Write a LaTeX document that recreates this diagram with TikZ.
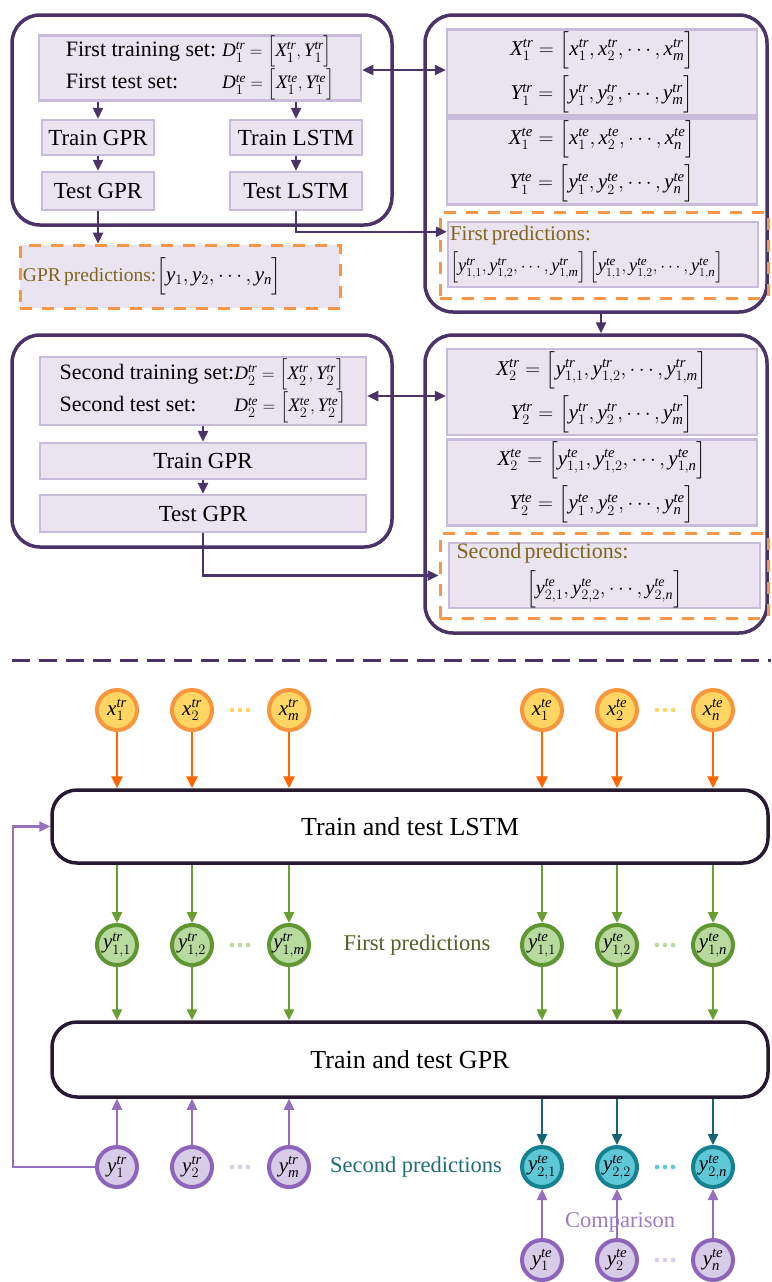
\documentclass[tikz,border=0pt]{standalone}
\usepackage{exscale}
\usepackage{fontspec}
\setmainfont{Liberation Serif}
\begingroup\edef\x{\endgroup
  \noexpand\DeclareSymbolFont{tletters}{TU}{\rmdefault}{m}{it}%
  \noexpand\DeclareSymbolFont{tdigits}{TU}{\rmdefault}{m}{n}}\x
\DeclareMathSymbol{x}{\mathalpha}{tletters}{`x}
\DeclareMathSymbol{y}{\mathalpha}{tletters}{`y}
\DeclareMathSymbol{m}{\mathalpha}{tletters}{`m}
\DeclareMathSymbol{n}{\mathalpha}{tletters}{`n}
\DeclareMathSymbol{t}{\mathalpha}{tletters}{`t}
\DeclareMathSymbol{r}{\mathalpha}{tletters}{`r}
\DeclareMathSymbol{e}{\mathalpha}{tletters}{`e}
\DeclareMathSymbol{X}{\mathalpha}{tletters}{`X}
\DeclareMathSymbol{Y}{\mathalpha}{tletters}{`Y}
\DeclareMathSymbol{D}{\mathalpha}{tletters}{`D}
\DeclareMathSymbol{1}{\mathalpha}{tdigits}{`1}
\DeclareMathSymbol{2}{\mathalpha}{tdigits}{`2}
\usetikzlibrary{arrows.meta,calc,shadows}
\definecolor{dpurple}{RGB}{74,51,102}
\definecolor{boxfill}{RGB}{234,228,240}
\definecolor{boxline}{RGB}{200,188,218}
\definecolor{dorange}{RGB}{247,150,70}
\definecolor{olivebrown}{RGB}{128,100,30}
\definecolor{oarrow}{RGB}{255,102,0}
\definecolor{oring}{RGB}{247,150,60}
\definecolor{ofill}{RGB}{255,214,100}
\definecolor{gring}{RGB}{95,150,50}
\definecolor{gfill}{RGB}{185,218,158}
\definecolor{garrow}{RGB}{106,158,50}
\definecolor{gtext}{RGB}{80,98,40}
\definecolor{vring}{RGB}{140,100,185}
\definecolor{vfill}{RGB}{216,203,232}
\definecolor{varrow}{RGB}{150,110,190}
\definecolor{vtext}{RGB}{155,125,190}
\definecolor{tring}{RGB}{20,130,145}
\definecolor{tfill}{RGB}{95,200,215}
\definecolor{tarrow}{RGB}{20,100,115}
\definecolor{ttext}{RGB}{30,110,120}
\definecolor{lborder}{RGB}{40,25,50}
\begin{document}
\begin{tikzpicture}[x=1pt,y=-1pt,
  bigbox/.style={draw=dpurple,line width=3.5pt,rounded corners=28pt,fill=white,inner sep=0pt},
  ibox/.style={draw=boxline,fill=boxfill,line width=2.5pt,inner sep=2pt},
  odash/.style={draw=dorange,line width=3pt,dash pattern=on 12pt off 10pt,inner sep=0pt},
  lbl/.style={font=\fontsize{23}{27}\selectfont},
  tip/.style={-{Triangle[length=11pt,width=10pt]}},
  parr/.style={draw=dpurple,line width=2.4pt,tip},
  darr/.style={draw=dpurple,line width=2.4pt,{Triangle[length=11pt,width=10pt]}-{Triangle[length=11pt,width=10pt]}},
  oarr/.style={draw=oarrow,line width=2.8pt,-{Triangle[length=12pt,width=11pt]}},
  garr/.style={draw=garrow,line width=2.4pt,tip},
  varr/.style={draw=varrow,line width=2.4pt,tip},
  tarr/.style={draw=tarrow,line width=2.4pt,tip},
  circ/.style={circle,line width=4pt,minimum size=40pt,inner sep=0pt,font=\fontsize{21}{21}\selectfont,
    drop shadow={shadow xshift=1.5pt,shadow yshift=-2pt,opacity=0.25,fill=gray}},
  ocirc/.style={circ,draw=oring,fill=ofill},
  gcirc/.style={circ,draw=gring,fill=gfill},
  vcirc/.style={circ,draw=vring,fill=vfill},
  tcirc/.style={circ,draw=tring,fill=tfill},
  stage/.style={draw=lborder,line width=3.5pt,rounded corners=25pt,fill=white,minimum width=716pt,font=\fontsize{26}{30}\selectfont}
]
\useasboundingbox[fill=white] (0,0) rectangle (771,1282);

% ---------- top part ----------
\node[bigbox,minimum width=380pt,minimum height=210pt] (bigtl) at (202,120) {};
\node[bigbox,minimum width=342pt,minimum height=297pt] (bigtr) at (596,163.5) {};
\node[bigbox,minimum width=380pt,minimum height=212pt] (bigbl) at (202,441) {};
\node[bigbox,minimum width=342pt,minimum height=298pt] (bigbr) at (596,484) {};

\node[ibox,minimum width=322pt,minimum height=65pt,inner ysep=0pt] (set1) at (200,68)
 {\fontsize{22}{25}\selectfont\begin{tabular}{@{}l@{\hspace{6pt}}l@{}}First training set: & {\fontsize{19}{20}\selectfont$D_1^{tr}=\Bigl[X_1^{tr},Y_1^{tr}\Bigr]$}\\[5pt]
 First test set: & {\fontsize{19}{20}\selectfont$D_1^{te}=\Bigl[X_1^{te},Y_1^{te}\Bigr]$}\end{tabular}};
\node[ibox,lbl,minimum width=112pt,minimum height=35pt] (trgpr1) at (98,137.5) {Train GPR};
\node[ibox,lbl,minimum width=132pt,minimum height=35pt] (trlstm1) at (296,137.5) {Train LSTM};
\node[ibox,lbl,minimum width=112pt,minimum height=38pt] (tegpr1) at (98,191) {Test GPR};
\node[ibox,lbl,minimum width=132pt,minimum height=38pt] (telstm1) at (296,191) {Test LSTM};
\node[ibox,odash,fill=boxfill,minimum width=320pt,minimum height=63pt,text width=314pt,align=left,inner xsep=3pt] (gprpred) at (180,276.5)
 {\fontsize{19.5}{24}\selectfont\textcolor{olivebrown}{GPR predictions:}{\fontsize{21}{22}\selectfont$\Bigl[y_1,y_2,\cdots,y_n\Bigr]$}};

\draw[parr] (set1.south -| trgpr1) -- (trgpr1.north);
\draw[parr] (set1.south -| trlstm1) -- (trlstm1.north);
\draw[parr] (trgpr1) -- (tegpr1.north);
\draw[parr] (trlstm1) -- (telstm1.north);
\draw[parr] (tegpr1.south) -- (tegpr1.south |- gprpred.north);

\node[ibox,minimum width=310pt,minimum height=85pt,font=\fontsize{21}{22}\selectfont,align=center] (xy1tr) at (602,72.5)
 {$X_1^{tr}=\Bigl[x_1^{tr},x_2^{tr},\cdots,x_m^{tr}\Bigr]$\\[6pt]$Y_1^{tr}=\Bigl[y_1^{tr},y_2^{tr},\cdots,y_m^{tr}\Bigr]$};
\node[ibox,minimum width=310pt,minimum height=83pt,font=\fontsize{21}{22}\selectfont,align=center] (xy1te) at (602,161.5)
 {$X_1^{te}=\Bigl[x_1^{te},x_2^{te},\cdots,x_n^{te}\Bigr]$\\[6pt]$Y_1^{te}=\Bigl[y_1^{te},y_2^{te},\cdots,y_n^{te}\Bigr]$};
\node[odash,minimum width=328pt,minimum height=86pt] (fpdash) at (604,255) {};
\node[ibox,minimum width=310pt,minimum height=65pt,text width=306pt,align=left,inner ysep=0pt] (fpbox) at (603,254.5)
 {\fontsize{21}{21}\selectfont\textcolor{olivebrown}{First predictions:}\\[6pt]
 {\fontsize{18.5}{19}\selectfont$\Bigl[y_{1,1}^{tr},y_{1,2}^{tr},\cdots,y_{1,m}^{tr}\Bigr]\,\Bigl[y_{1,1}^{te},y_{1,2}^{te},\cdots,y_{1,n}^{te}\Bigr]$}};

\draw[darr] (set1.east |- 0,70) -- (xy1tr.west |- 0,70);
\draw[parr] (telstm1.south) |- ([yshift=-11pt]fpbox.north west);
\draw[parr] (bigtr.south -| 601,0) -- (bigbr.north -| 601,0);

% second block
\node[ibox,minimum width=326pt,minimum height=68pt,inner ysep=0pt] (set2) at (203,391)
 {\fontsize{22}{25}\selectfont\begin{tabular}{@{}l@{}l@{}}Second training set: & {\fontsize{19}{20}\selectfont$D_2^{tr}=\Bigl[X_2^{tr},Y_2^{tr}\Bigr]$}\\[5pt]
 Second test set: & {\fontsize{19}{20}\selectfont$D_2^{te}=\Bigl[X_2^{te},Y_2^{te}\Bigr]$}\end{tabular}};
\node[ibox,lbl,minimum width=326pt,minimum height=36pt] (trgpr2) at (203,461) {Train GPR};
\node[ibox,lbl,minimum width=326pt,minimum height=37pt] (tegpr2) at (203,513.5) {Test GPR};
\draw[parr] (set2.south) -- (trgpr2.north);
\draw[parr] (trgpr2.south) -- (tegpr2.north);

\node[ibox,minimum width=310pt,minimum height=86pt,font=\fontsize{21}{22}\selectfont,align=center] (xy2tr) at (602,392)
 {$X_2^{tr}=\Bigl[y_{1,1}^{tr},y_{1,2}^{tr},\cdots,y_{1,m}^{tr}\Bigr]$\\[6pt]$Y_2^{tr}=\Bigl[y_1^{tr},y_2^{tr},\cdots,y_m^{tr}\Bigr]$};
\node[ibox,minimum width=310pt,minimum height=85pt,font=\fontsize{21}{22}\selectfont,align=center] (xy2te) at (602,482.5)
 {$X_2^{te}=\Bigl[y_{1,1}^{te},y_{1,2}^{te},\cdots,y_{1,n}^{te}\Bigr]$\\[6pt]$Y_2^{te}=\Bigl[y_1^{te},y_2^{te},\cdots,y_n^{te}\Bigr]$};
\node[odash,minimum width=328pt,minimum height=85pt] (spdash) at (604,575.5) {};
\node[ibox,minimum width=311pt,minimum height=65pt,text width=296pt,align=left,inner ysep=0pt] (spbox) at (604.5,575.5)
 {\fontsize{22}{22}\selectfont\textcolor{olivebrown}{Second predictions:}\\[6pt]
 \makebox[296pt][c]{\fontsize{20}{20}\selectfont$\Bigl[y_{2,1}^{te},y_{2,2}^{te},\cdots,y_{2,n}^{te}\Bigr]$}};

\draw[darr] (set2.east |- 0,396) -- (xy2tr.west |- 0,396);
\draw[parr] (tegpr2.south) |- (spdash.west);

% separator
\draw[dpurple,line width=3pt,dash pattern=on 18pt off 9pt] (12,660) -- (771,660);

% ---------- bottom part ----------
\node[stage,minimum height=73pt] (lstm) at (410,826.5) {Train and test LSTM};
\node[stage,minimum height=75pt] (gpr) at (410,1059.5) {Train and test GPR};

\foreach \n/\x/\lab in {o1/117/{x_1^{tr}},o2/192/{x_2^{tr}},o3/289/{x_m^{tr}},o4/542/{x_1^{te}},o5/617/{x_2^{te}},o6/713/{x_n^{te}}}{
  \node[ocirc] (\n) at (\x,710) {$\lab$};
  \draw[oarr] (\n.south) -- (\n.south |- lstm.north);
}
\foreach \n/\x/\lab in {g1/117/{y_{1,1}^{tr}},g2/192/{y_{1,2}^{tr}},g3/289/{y_{1,m}^{tr}},g4/542/{y_{1,1}^{te}},g5/617/{y_{1,2}^{te}},g6/713/{y_{1,n}^{te}}}{
  \node[gcirc] (\n) at (\x,945) {$\lab$};
  \draw[garr] (lstm.south -| \n) -- (\n.north);
  \draw[garr] (\n.south) -- (\n.south |- gpr.north);
}
\foreach \n/\x/\lab in {p1/117/{y_1^{tr}},p2/192/{y_2^{tr}},p3/289/{y_m^{tr}}}{
  \node[vcirc] (\n) at (\x,1167) {$\lab$};
  \draw[varr] (\n.north) -- (\n.north |- gpr.south);
}
\foreach \n/\x/\lab in {t1/542/{y_{2,1}^{te}},t2/617/{y_{2,2}^{te}},t3/713/{y_{2,n}^{te}}}{
  \node[tcirc] (\n) at (\x,1167) {$\lab$};
  \draw[tarr] (gpr.south -| \n) -- (\n.north);
}
\foreach \n/\m/\x/\lab in {b1/t1/542/{y_1^{te}},b2/t2/617/{y_2^{te}},b3/t3/713/{y_n^{te}}}{
  \node[vcirc] (\n) at (\x,1260) {$\lab$};
  \draw[varr] (\n.north) -- (\m.south);
}

% dots
\foreach \y/\c in {710/ofill,945/gfill,1167/vfill}{
  \foreach \dx in {-8,0,8}{\fill[\c] (240+\dx,\y) circle (2.3pt);}
}
\foreach \y/\c in {710/ofill,945/gfill,1167/tfill,1260/vfill}{
  \foreach \dx in {-8,0,8}{\fill[\c] (665+\dx,\y) circle (2.3pt);}
}

\node[font=\fontsize{22.5}{26}\selectfont,text=gtext] (fptext) at (417,945) {First predictions};
\node[font=\fontsize{22.5}{26}\selectfont,text=ttext] (sptext) at (416,1167) {Second predictions};
\node[font=\fontsize{22.5}{26}\selectfont,text=vtext] (cmp) at (620,1222) {Comparison};

\draw[varr] (p1.west) -| ([xshift=-37pt]lstm.west) -- (lstm.west);
\end{tikzpicture}
\end{document}
